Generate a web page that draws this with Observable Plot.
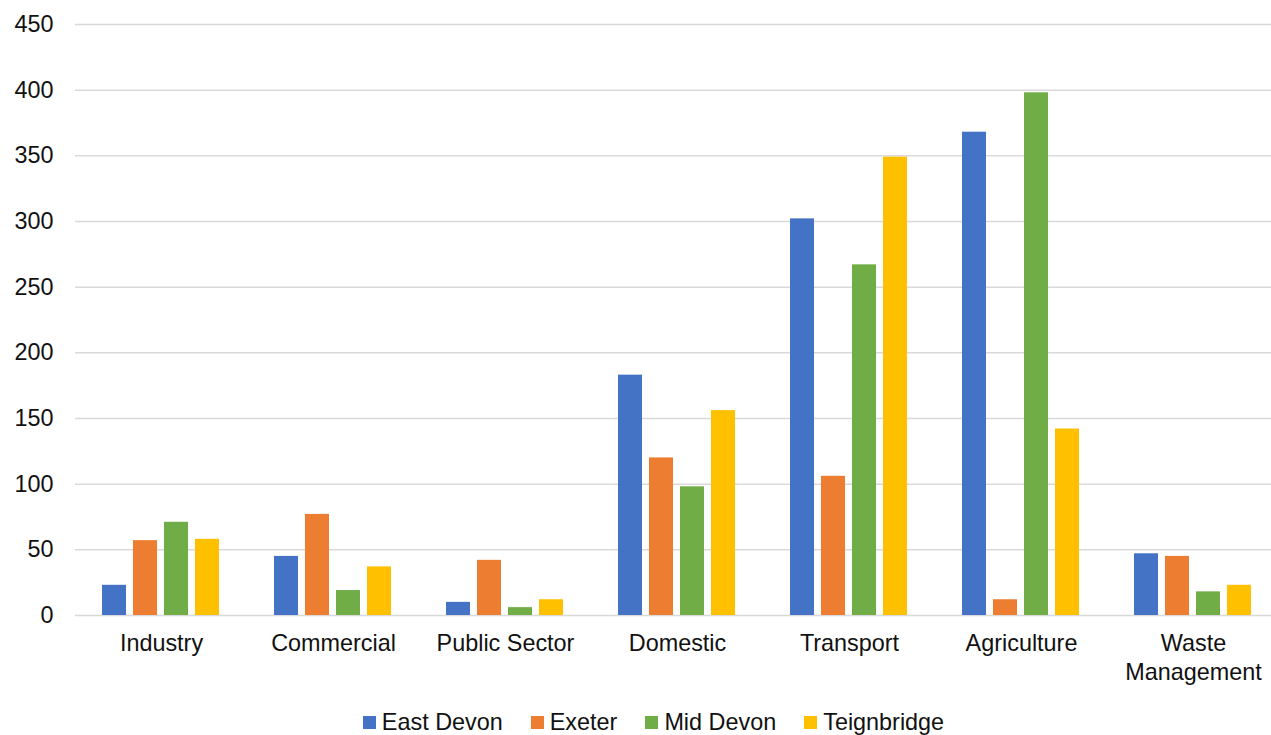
<!DOCTYPE html>
<html>
<head>
<meta charset="utf-8">
<script src="https://cdn.jsdelivr.net/npm/d3@7"></script>
<script src="https://cdn.jsdelivr.net/npm/@observablehq/plot@0.6"></script>
<style>
  html, body { margin: 0; padding: 0; background: #fff; overflow: hidden; width: 1271px; height: 735px; }
  body { font-family: "Liberation Sans", Arial, sans-serif; color: #111; }
  #chart { width: 1271px; height: 700px; overflow: hidden; }
  #chart svg { display: block; max-width: none !important; width: 1281px !important; height: 700px !important; }
  #legend { width: 1271px; box-sizing: border-box; display: flex; justify-content: center; align-items: center; padding-left: 36px; padding-top: 10px; height: 35px; font-size: 23.4px; line-height: 25px; }
  .item { display: flex; align-items: center; margin: 0 14px; }
  .sw { width: 13px; height: 13px; margin-right: 6px; }
</style>
</head>
<body>
<div id="chart"></div>
<div id="legend"></div>
<script>
const categories = ["Industry", "Commercial", "Public Sector", "Domestic", "Transport", "Agriculture", "Waste Management"];
const series = ["East Devon", "Exeter", "Mid Devon", "Teignbridge"];
const eastDevon  = [23, 45, 10, 183, 302, 368, 47];
const exeter     = [57, 77, 42, 120, 106, 12, 45];
const midDevon   = [71, 19, 6, 98, 267, 398, 18];
const teignbridge = [58, 37, 12, 156, 349, 142, 23];
const colors = ["#4472C4", "#ED7D31", "#70AD47", "#FFC000"];
const yTicks = [0, 50, 100, 150, 200, 250, 300, 350, 400, 450];

const values = [eastDevon, exeter, midDevon, teignbridge];
const data = categories.flatMap((c, i) => series.map((s, j) => ({category: c, series: s, value: values[j][i]})));

const chart = Plot.plot({
  width: 1281,
  height: 700,
  marginTop: 24,
  marginBottom: 85,
  marginLeft: 72,
  marginRight: 0,
  style: {fontFamily: "'Liberation Sans', Arial, sans-serif", fontSize: "23.4px", color: "#111", background: "#fff"},
  fx: {domain: categories, padding: 0, label: null},
  x: {domain: series, axis: null, paddingInner: 0.21, paddingOuter: 0.864},
  y: {domain: [0, 450], axis: null},
  color: {domain: series, range: colors},
  marks: [
    Plot.gridY(yTicks, {stroke: "#d9d9d9", strokeOpacity: 1, strokeWidth: 1.5}),
    Plot.barY(data, {fx: "category", x: "series", y: "value", fill: "series"}),
    Plot.axisY(yTicks, {tickSize: 0, tickPadding: 22, label: null}),
    Plot.axisFx({anchor: "bottom", tickSize: 0, tickPadding: 16, label: null, lineHeight: 1.2,
      tickFormat: d => d === "Waste Management" ? "Waste\nManagement" : d})
  ]
});
document.getElementById("chart").appendChild(chart);

const legend = document.getElementById("legend");
series.forEach((s, i) => {
  const item = document.createElement("div");
  item.className = "item";
  const sw = document.createElement("span");
  sw.className = "sw";
  sw.style.background = colors[i];
  const t = document.createElement("span");
  t.textContent = s;
  item.appendChild(sw);
  item.appendChild(t);
  legend.appendChild(item);
});
</script>
</body>
</html>
